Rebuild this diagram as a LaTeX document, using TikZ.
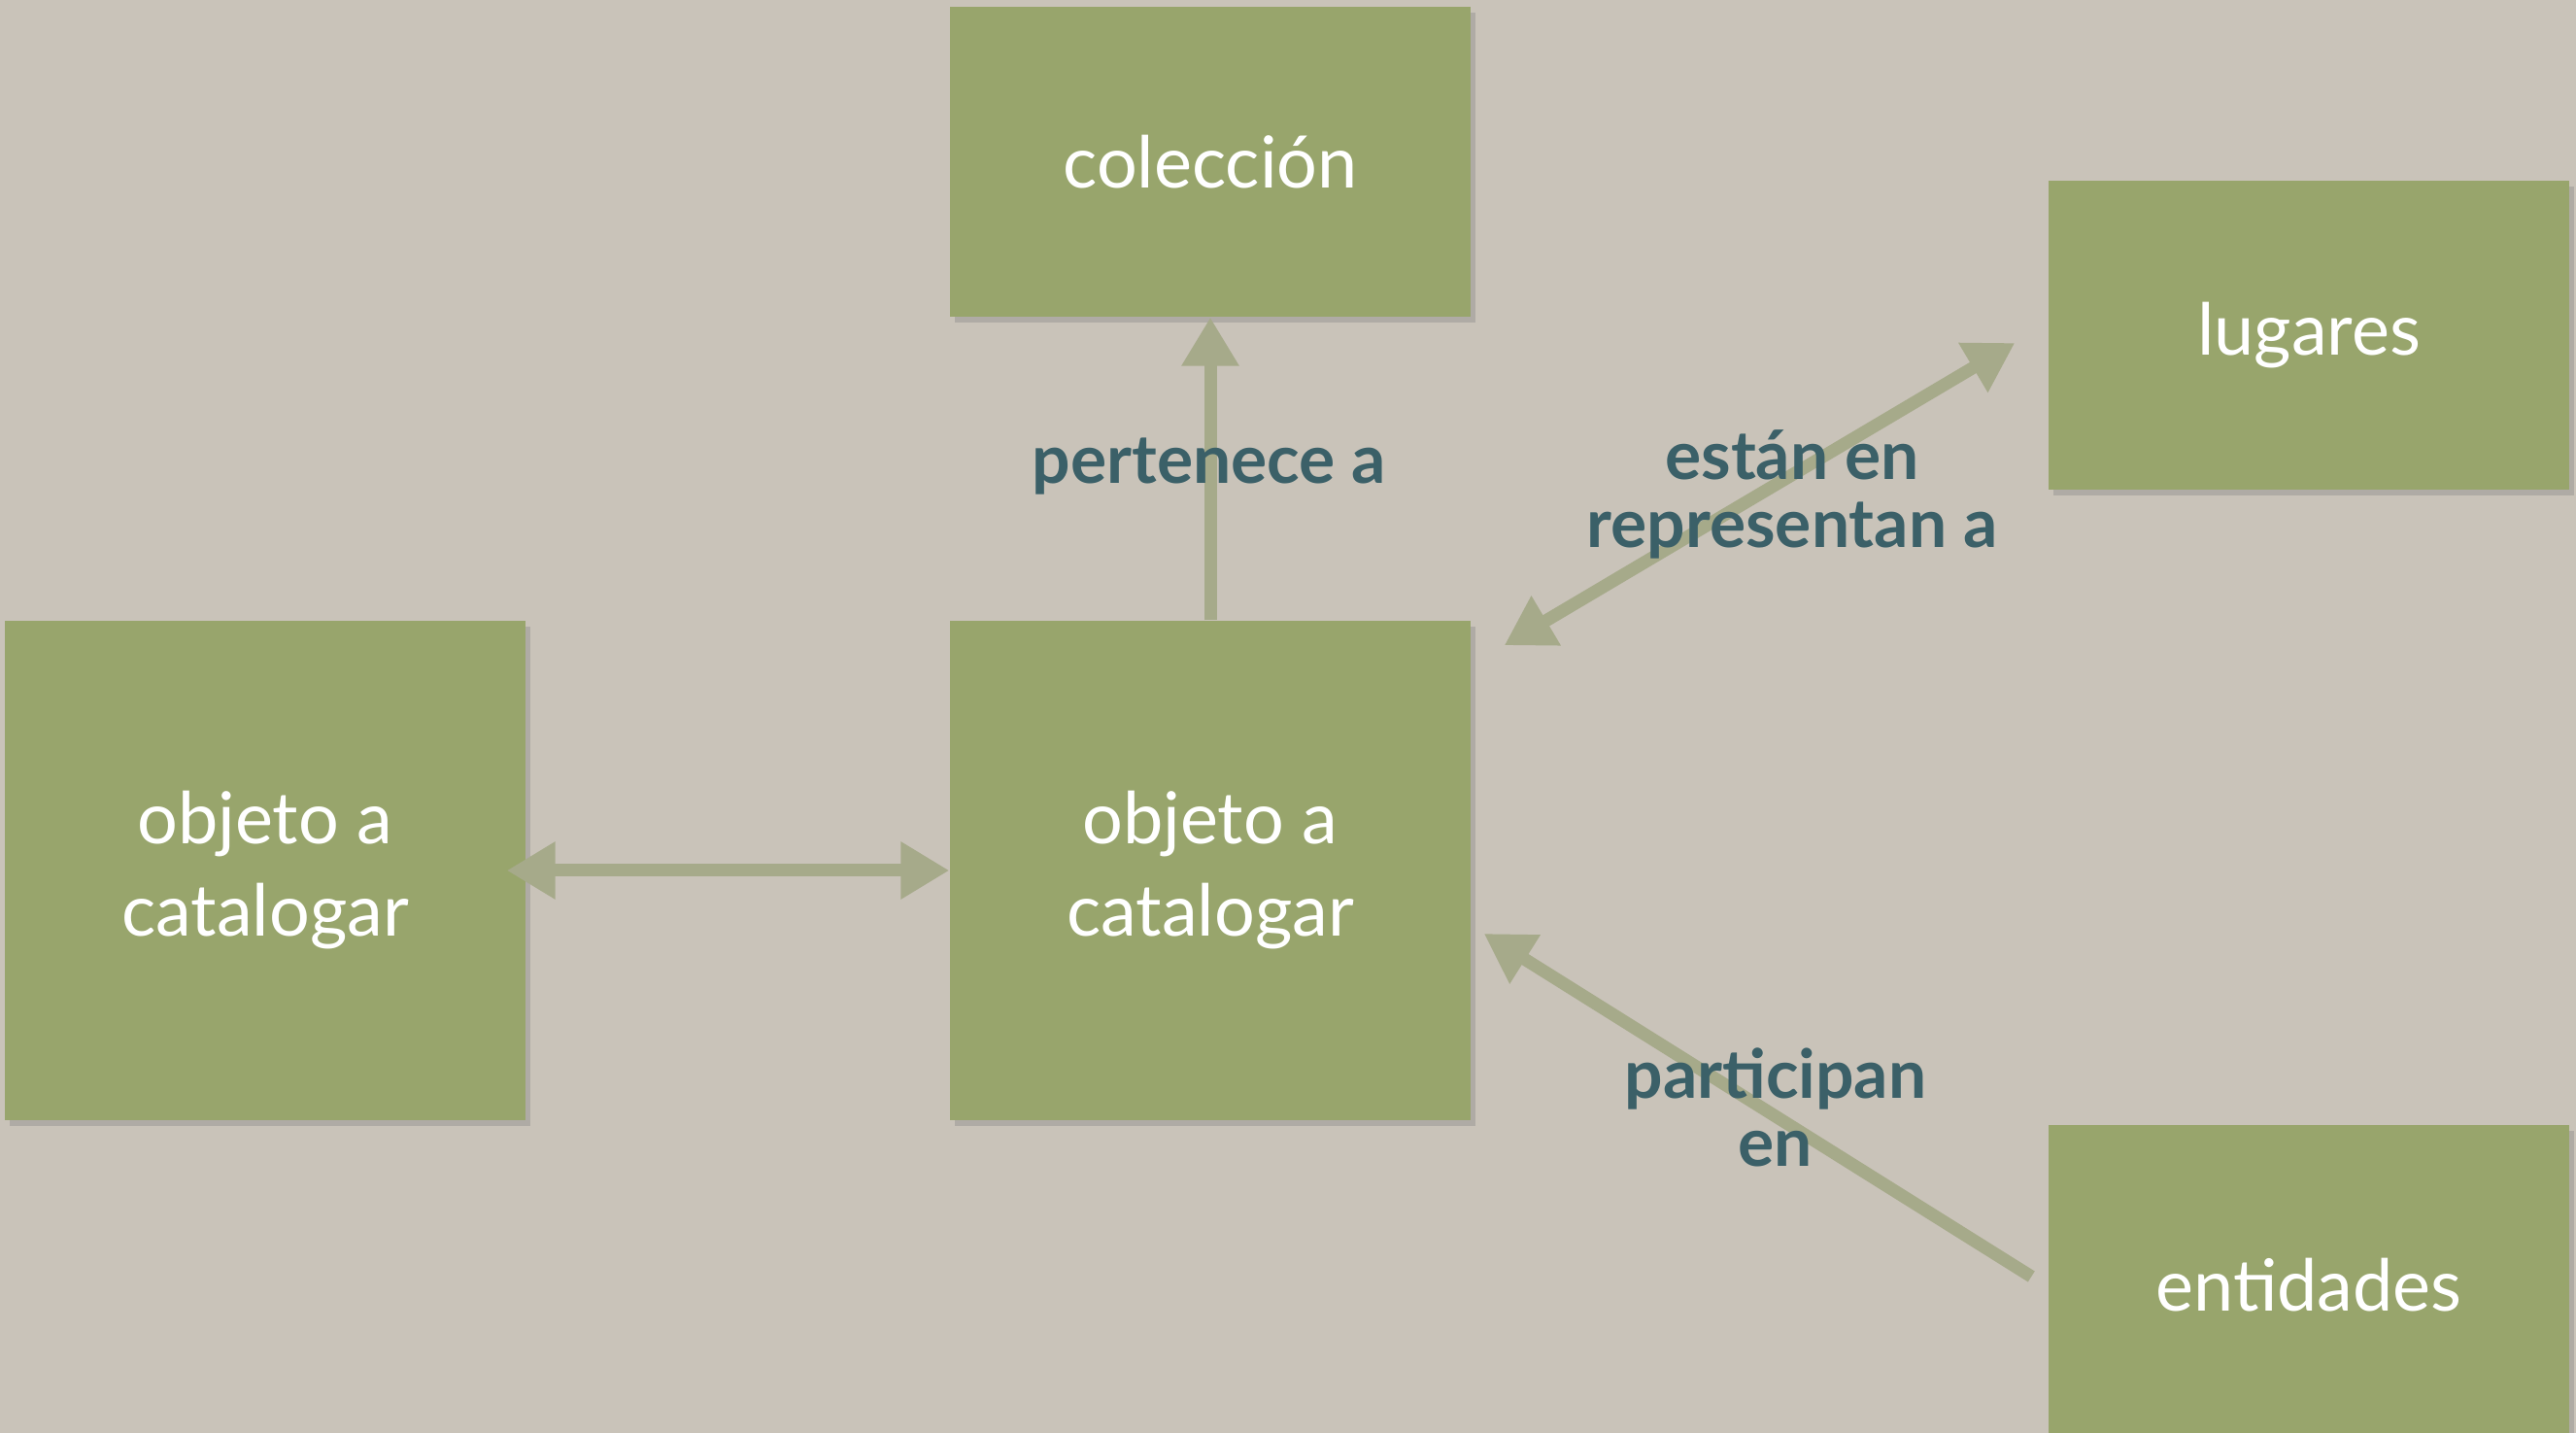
\documentclass[tikz,border=0pt]{standalone}
\usepackage{fontspec}
\setmainfont{Lato}
\usepackage{tikz}
\usetikzlibrary{arrows.meta}
\usetikzlibrary{positioning}
\usetikzlibrary{shadows}
\definecolor{fondo}{RGB}{201,195,185}
\definecolor{caja}{RGB}{152,165,108}
\definecolor{flecha}{RGB}{166,170,138}
\definecolor{rotulo}{RGB}{59,96,104}
\tikzset{
  entidad/.style={fill=caja, text=white, minimum width=5.36cm, align=center,
    font=\fontsize{21}{27}\selectfont,
    drop shadow={shadow xshift=0.05cm, shadow yshift=-0.06cm, opacity=0.35}},
  relacion/.style={text=rotulo, align=center, font=\fontsize{19.8}{19.7}\selectfont\bfseries},
  conector/.style={line width=0.13cm, color=flecha, -{Triangle[length=0.5cm, width=0.56cm]}},
  biconector/.style={conector, {Triangle[length=0.5cm, width=0.56cm]}-{Triangle[length=0.5cm, width=0.56cm]}}
}

\begin{document}
\begin{tikzpicture}[line cap=butt,line join=round,x=1cm,y=1cm]
\fill[fondo] (0,0) rectangle (26.52,14.75);
\useasboundingbox (0,0) rectangle (26.52,14.75);

\node[entidad, minimum height=3.19cm] (coleccion) at (12.46,13.085) {colección};
\node[entidad, minimum height=3.18cm] (lugares) at (23.77,11.30) {lugares};
\node[entidad, minimum height=5.14cm] (objizq) at (2.73,5.79) {objeto a\\catalogar};
\node[entidad, minimum height=5.14cm] (objeto) at (12.46,5.79) {objeto a\\catalogar};
\node[entidad, minimum height=3.30cm] (entidades) at (23.77,1.52) {entidades};

\coordinate (estA) at ([shift={(0.34,-0.26)}]objeto.north east);
\coordinate (estB) at ([shift={(-0.34,-0.08)}]lugares.west);
\coordinate (parA) at ([shift={(-0.17,0.09)}]entidades.west);
\coordinate (parB) at ([shift={(0.13,-0.65)}]objeto.east);

\draw[conector] (objeto.north) -- (coleccion.south);
\draw[biconector] ([xshift=-0.2cm]objizq.east) -- (objeto.west);
\draw[biconector] (estA) -- (estB);
\draw[conector] (parA) -- (parB);

\node[relacion] (pertenece) at (12.45,9.95) {pertenece a};
\node[relacion] (estan) at (18.45,9.66) {están en\\representan a};
\node[relacion] (participan) at (18.28,3.35) {participan\\en};
\end{tikzpicture}
\end{document}
